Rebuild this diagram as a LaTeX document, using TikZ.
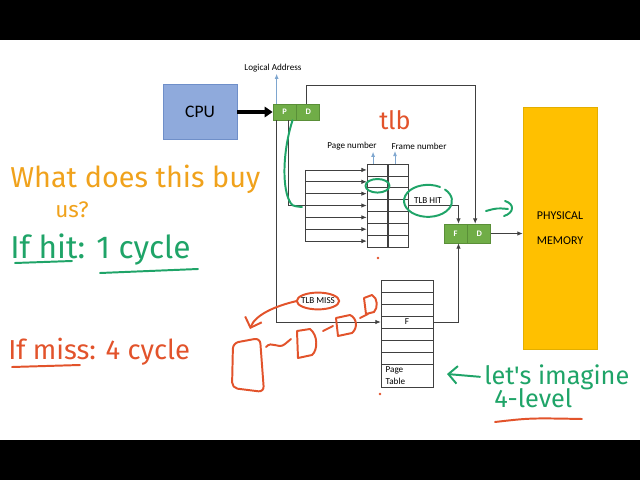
\documentclass[tikz,border=0pt]{standalone}
\usepackage{fontspec}
\setmainfont{Carlito}
\newfontfamily\handfont{Fira Sans}
\usetikzlibrary{arrows.meta, positioning, calc}
\definecolor{cpublue}{HTML}{8FAADC}
\definecolor{cpuedge}{HTML}{6F8FC9}
\definecolor{memgold}{HTML}{FFC000}
\definecolor{memedge}{HTML}{E3AE00}
\definecolor{addrgreen}{HTML}{70AD47}
\definecolor{addredge}{HTML}{5A8F38}
\definecolor{wiregrey}{HTML}{404040}
\definecolor{tickblue}{HTML}{7EA6CF}
\definecolor{inkgreen}{HTML}{1FA468}
\definecolor{inkamber}{HTML}{F0A21C}
\definecolor{inkred}{HTML}{E2532B}
\tikzset{
  every picture/.style={font=\rmfamily, line width=0.5pt},
  field/.style={draw=addredge, fill=addrgreen, text=white, font=\fontsize{6}{7}\selectfont\bfseries, minimum width=0.575cm, inner sep=0pt},
  cell/.style={draw=wiregrey, minimum width=0.525cm, minimum height=0.2965cm, inner sep=0pt},
  ptrow/.style={draw=wiregrey, minimum width=1.3cm, minimum height=0.3cm, inner sep=0pt},
  lbl/.style={font=\fontsize{6.5}{8.5}\selectfont, inner sep=1pt},
  wire/.style={draw=wiregrey, line width=0.5pt},
  ptr/.style={wire, -{Latex[length=1.3mm, width=1.1mm]}},
  uparrow/.style={draw=tickblue, line width=0.6pt, -{Latex[length=1.3mm, width=1mm]}},
  ink/.style={line width=1.4pt, line cap=round, line join=round},
  hand/.style={font=\handfont\fontsize{#1}{#1}\selectfont, inner sep=0pt},
}

\begin{document}
\begin{tikzpicture}[x=0.025cm, y=-0.025cm]
  \useasboundingbox (0,0) rectangle (640,480);
  \fill[black] (0,0) rectangle (640,40);
  \fill[black] (0,440) rectangle (640,480);

  % cpu and logical address
  \node[draw=cpuedge, fill=cpublue, minimum width=1.85cm, minimum height=1.375cm, font=\fontsize{12.5}{14}\selectfont] (cpu) at (200,112) {CPU};
  \node[field, minimum height=0.4cm] (pnum) at (284.5,112) {P};
  \node[field, minimum height=0.4cm, right=0pt of pnum] (poff) {D};
  \node[lbl] (logaddr) at (273,68) {Logical Address};
  \draw[line width=2.6pt, -{Triangle[length=2mm, width=2.6mm]}] (cpu.east) -- (pnum.west);
  \coordinate (lapin) at ([xshift=0.1cm]pnum.north west);
  \draw[uparrow] (lapin) -- (lapin |- logaddr.south);

  % TLB: page | frame
  \foreach \i in {1,...,7} {
    \node[cell] (tp\i) at (377.5,{164+(\i-0.5)*11.86}) {};
    \node[cell] (tf\i) at (398,{164+(\i-0.5)*11.86}) {};
  }
  \node[lbl] (pglbl) at (352,146) {Page number};
  \node[lbl] (frlbl) at (419,146) {Frame number};
  \coordinate (pgtick) at ([xshift=-0.11cm]tp1.north);
  \coordinate (frtick) at ([xshift=-0.075cm]tf1.north);
  \draw[uparrow] (pgtick) -- (pgtick |- pglbl.south);
  \draw[uparrow] (frtick) -- (frtick |- frlbl.south);

  % page number fans out to every TLB entry
  \coordinate (bus) at (305,0);
  \foreach \i in {1,...,7} \draw[ptr] (bus |- tp\i.west) -- (tp\i.west);
  \draw[wire] (bus |- tp1.west) -- (bus |- tp7.west);
  \draw[wire] ([xshift=0.09cm]pnum.south) |- (bus |- tp4.west);

  % physical address
  \node[field, minimum height=0.475cm] (fnum) at (455.5,233.5) {F};
  \node[field, minimum height=0.475cm, right=0pt of fnum] (foff) {D};
  \node[draw=memedge, fill=memgold, minimum width=1.85cm, minimum height=6.05cm, align=center, font=\fontsize{8.5}{10}\selectfont] (mem) at (560,228) {PHYSICAL\\[8pt]MEMORY};
  \draw[ptr] (foff.east) -- (foff.east -| mem.west);

  % offset goes straight through
  \coordinate (looptop) at (0,85);
  \coordinate (offin) at ([xshift=-0.1cm]foff.north);
  \draw[ptr] ([xshift=-0.05cm]poff.north) |- (looptop -| offin) -- (offin);

  % TLB hit
  \node[lbl] (hitlbl) at (428,201) {TLB HIT};
  \draw[ptr] (tf4.east) -| ([xshift=0.075cm]fnum.north);

  % page table
  \foreach \i in {1,...,7}
    \node[ptrow] (pt\i) at (407,{280+(\i-0.5)*12}) {};
  \node[ptrow, minimum height=0.575cm] (pt8) at (407,375.5) {};
  \node[lbl] (ptf) at (pt4) {F};
  \node[lbl, anchor=west, align=left] (ptname) at ([xshift=0.08cm]pt8.west) {Page\\Table};

  % TLB miss
  \node[lbl] (misslbl) at (318,301) {TLB MISS};
  \draw[ptr] (lapin |- pnum.south) |- (pt4.west);
  \draw[ptr] (pt4.east) -| ([xshift=0.075cm]fnum.south);

  % pen notes
  \node[hand=20.5, text=inkamber, anchor=base west] (buy) at (10,187) {What does this buy};
  \node[hand=16, text=inkamber, anchor=base west] (us) at (55,217) {us?};
  \node[hand=22.5, text=inkgreen, anchor=base west] (hitnote) at (10,258) {If hit: 1 cycle};
  \draw[ink, inkgreen] (15,263) -- (72,261);
  \draw[ink, inkgreen] (100,273) -- (198,269);
  \node[hand=19.5, text=inkred, anchor=base west] (missnote) at (8,359) {If miss: 4 cycle};
  \draw[ink, inkred] (12,367) -- (80,365);
  \node[hand=18, text=inkred] (tlbnote) at (395,120) {tlb};
  \node[hand=18, text=inkgreen, anchor=base west] (imagine) at (484,384) {let's imagine};
  \node[hand=18, text=inkgreen, anchor=base west] (level) at (494,407) {4-level};
  \coordinate (notetip) at (447,374);
  \draw[ink, inkgreen, -{Straight Barb[length=2.2mm]}] ([xshift=-0.1cm]imagine.west) -- (notetip);
  \draw[ink, inkred] (495,422) .. controls (530,418) .. (582,419);

  % green marks on the TLB path
  \draw[ink, inkgreen] ([xshift=0.2cm]pnum.south) .. controls (283,150) and (282,185) .. (289,200) .. controls (292,206) .. (302,207);
  \draw[ink, inkgreen] ([yshift=-0.1cm]tp2.center) ellipse [x radius=0.3cm, y radius=0.17cm];
  \draw[ink, inkgreen] ([shift={(0.3cm,0.35cm)}]hitlbl.center) arc [start angle=60, end angle=405, x radius=0.6cm, y radius=0.4cm];
  \draw[ink, inkgreen] (486,211) .. controls (497,208) .. (508,209);
  \draw[ink, inkgreen] (505,201) .. controls (515,204) and (514,213) .. (504,216);

  % red marks on the miss path
  \draw[ink, inkred] (misslbl) ellipse [x radius=0.53cm, y radius=0.21cm];
  \draw[ink, inkred, -{Straight Barb[length=2.2mm]}] ([xshift=-0.53cm]misslbl.center) .. controls (275,306) and (255,315) .. (250,329);
  \draw[ink, inkred, rounded corners=4pt] (233,343) -- (232,388) -- (264,392) -- (260,338) -- cycle;
  \draw[ink, inkred] (266,347) .. controls (272,340) and (278,350) .. (285,344) -- (291,339);
  \draw[ink, inkred] (297,331) -- (298,358) -- (312,355) .. controls (318,350) and (318,335) .. (310,329) -- cycle;
  \draw[ink, inkred] (323,331) -- (333,326);
  \draw[ink, inkred] (336,318) -- (338,336) -- (352,333) .. controls (358,328) and (357,318) .. (350,315) -- cycle;
  \draw[ink, inkred] (360,318) -- (368,314);
  \draw[ink, inkred] (364,298) -- (366,314) -- (374,312) .. controls (378,308) and (378,298) .. (372,295) -- cycle;
  \fill[inkred] (378,258) circle (1pt);
  \fill[inkred] (380,394) circle (1pt);
\end{tikzpicture}
\end{document}
